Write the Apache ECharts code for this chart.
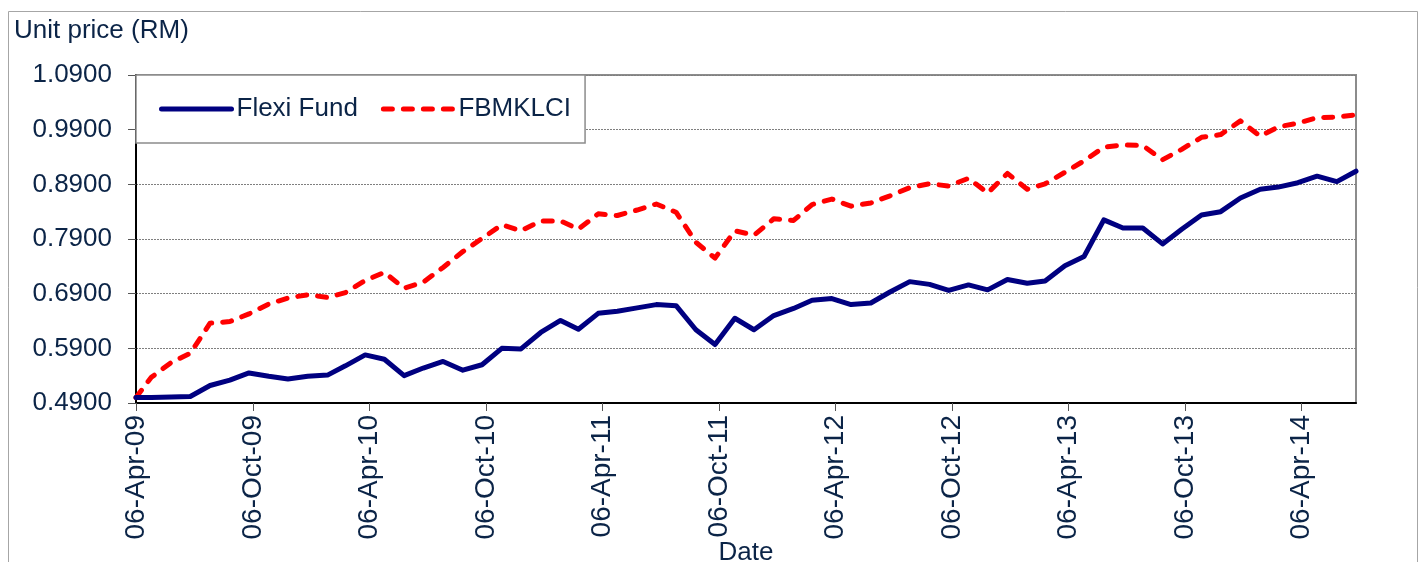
<!DOCTYPE html>
<html>
<head>
<meta charset="utf-8">
<script src="https://cdn.jsdelivr.net/npm/echarts@6/dist/echarts.min.js"></script>
<style>
  html, body { margin: 0; padding: 0; background: #ffffff; }
  #chart { width: 1424px; height: 562px; }
</style>
</head>
<body>
<div id="chart"></div>
<script>
// ---- Data ----
const seriesDates = [
  '2009-04-06',
  '2009-04-30','2009-05-31','2009-06-30','2009-07-31','2009-08-31','2009-09-30','2009-10-31','2009-11-30','2009-12-31',
  '2010-01-31','2010-02-28','2010-03-31','2010-04-30','2010-05-31','2010-06-30','2010-07-31','2010-08-31','2010-09-30','2010-10-31','2010-11-30','2010-12-31',
  '2011-01-31','2011-02-28','2011-03-31','2011-04-30','2011-05-31','2011-06-30','2011-07-31','2011-08-31','2011-09-30','2011-10-31','2011-11-30','2011-12-31',
  '2012-01-31','2012-02-29','2012-03-31','2012-04-30','2012-05-31','2012-06-30','2012-07-31','2012-08-31','2012-09-30','2012-10-31','2012-11-30','2012-12-31',
  '2013-01-31','2013-02-28','2013-03-31','2013-04-30','2013-05-31','2013-06-30','2013-07-31','2013-08-31','2013-09-30','2013-10-31','2013-11-30','2013-12-31',
  '2014-01-31','2014-02-28','2014-03-31','2014-04-30','2014-05-31','2014-06-30'
];
const flexiFund = [
  0.500,
  0.500, 0.501, 0.502, 0.522, 0.532, 0.545, 0.539, 0.534, 0.539,
  0.541, 0.558, 0.578, 0.570, 0.540, 0.554, 0.566, 0.550, 0.560, 0.590, 0.589, 0.619,
  0.641, 0.625, 0.654, 0.658, 0.664, 0.670, 0.668, 0.624, 0.597, 0.645, 0.624, 0.650,
  0.663, 0.678, 0.681, 0.670, 0.673, 0.693, 0.712, 0.707, 0.696, 0.706, 0.697, 0.716,
  0.709, 0.713, 0.741, 0.758, 0.825, 0.810, 0.810, 0.781, 0.808, 0.834, 0.840, 0.865,
  0.881, 0.885, 0.893, 0.905, 0.895, 0.914
];
const fbmklci = [
  0.500,
  0.537, 0.564, 0.581, 0.636, 0.639, 0.653, 0.671, 0.682, 0.688,
  0.683, 0.692, 0.714, 0.729, 0.700, 0.711, 0.738, 0.767, 0.791, 0.816, 0.805, 0.823,
  0.823, 0.808, 0.836, 0.833, 0.843, 0.854, 0.839, 0.784, 0.755, 0.805, 0.797, 0.827,
  0.824, 0.853, 0.863, 0.850, 0.856, 0.869, 0.884, 0.891, 0.887, 0.901, 0.874, 0.910,
  0.881, 0.891, 0.912, 0.933, 0.958, 0.962, 0.961, 0.935, 0.954, 0.976, 0.981, 1.006,
  0.978, 0.995, 1.002, 1.012, 1.013, 1.017
];
const tickDates = [
  '2009-04-06','2009-10-06','2010-04-06','2010-10-06','2011-04-06','2011-10-06',
  '2012-04-06','2012-10-06','2013-04-06','2013-10-06','2014-04-06'
];
const tickLabels = [
  '06-Apr-09','06-Oct-09','06-Apr-10','06-Oct-10','06-Apr-11','06-Oct-11',
  '06-Apr-12','06-Oct-12','06-Apr-13','06-Oct-13','06-Apr-14'
];
const seriesNames = ['Flexi Fund', 'FBMKLCI'];
const yMin = 0.49, yMax = 1.09, yStep = 0.1;
const xMin = '2009-04-06', xMax = '2014-06-30';

// ---- Helpers ----
const toTime = d => new Date(d + 'T00:00:00').getTime();
const tickTimes = tickDates.map(toTime);
const FONT = 'Liberation Sans, Arial, sans-serif';
const TEXT = '#0b2447';

const chart = echarts.init(document.getElementById('chart'), null, { renderer: 'canvas' });
chart.setOption({
  animation: false,
  backgroundColor: '#ffffff',
  textStyle: { fontFamily: FONT },
  grid: {
    left: 136, right: 68, top: 75, bottom: 159,
    outerBoundsMode: 'none', containLabel: false,
    show: true, borderColor: '#8c8c8c', borderWidth: 2, backgroundColor: 'transparent'
  },
  graphic: [
    {
      type: 'rect', left: 6, top: 9, silent: true, z: -10,
      shape: { width: 1409, height: 600 },
      style: { fill: 'none', stroke: '#a6a6a6', lineWidth: 1 }
    },
    {
      type: 'text', left: 14, top: 18, silent: true,
      style: { text: 'Unit price (RM)', fill: TEXT, font: '26px ' + FONT }
    }
  ],
  legend: {
    left: 136, top: 75,
    orient: 'horizontal',
    backgroundColor: '#ffffff',
    borderColor: '#8c8c8c', borderWidth: 1.5,
    padding: [21, 14, 21, 23],
    itemWidth: 70, itemHeight: 14, itemGap: 23,
    itemStyle: { opacity: 0 },
    lineStyle: { width: 5 },
    textStyle: { fontSize: 26, color: TEXT, fontFamily: FONT },
    data: seriesNames
  },
  xAxis: {
    type: 'value',
    min: toTime(xMin), max: toTime(xMax),
    name: 'Date', nameLocation: 'middle', nameGap: 137, nameMoveOverlap: false,
    nameTextStyle: { fontSize: 26, color: TEXT, fontFamily: FONT },
    axisLine: { show: true, onZero: false, lineStyle: { color: '#000000', width: 2 } },
    axisTick: { show: true, inside: false, length: 8, lineStyle: { color: '#555555' }, customValues: tickTimes },
    axisLabel: {
      rotate: 90, margin: 12, fontSize: 28, color: TEXT, fontFamily: FONT,
      customValues: tickTimes,
      formatter: function (val) {
        let best = 0, bd = Infinity;
        tickTimes.forEach((t, i) => { const d = Math.abs(t - val); if (d < bd) { bd = d; best = i; } });
        return tickLabels[best];
      }
    },
    splitLine: { show: false }
  },
  yAxis: {
    type: 'value',
    min: yMin, max: yMax, interval: yStep,
    axisLine: { show: true, onZero: false, lineStyle: { color: '#000000', width: 2 } },
    axisTick: { show: true, inside: false, length: 8, lineStyle: { color: '#555555' } },
    axisLabel: {
      margin: 24, fontSize: 26, color: TEXT, fontFamily: FONT,
      formatter: v => v.toFixed(4)
    },
    splitLine: { show: true, lineStyle: { color: '#7f7f7f', width: 1, type: [2, 1] } }
  },
  series: [
    {
      name: seriesNames[0], type: 'line', symbol: 'none', z: 3,
      data: seriesDates.map((d, i) => [toTime(d), flexiFund[i]]),
      lineStyle: { color: '#000080', width: 5, cap: 'round', join: 'round' },
      itemStyle: { color: '#000080' }
    },
    {
      name: seriesNames[1], type: 'line', symbol: 'none', z: 2,
      data: seriesDates.map((d, i) => [toTime(d), fbmklci[i]]),
      lineStyle: { color: '#ff0000', width: 5, type: [9, 11], cap: 'round', join: 'round' },
      itemStyle: { color: '#ff0000' }
    }
  ]
});
</script>
</body>
</html>
